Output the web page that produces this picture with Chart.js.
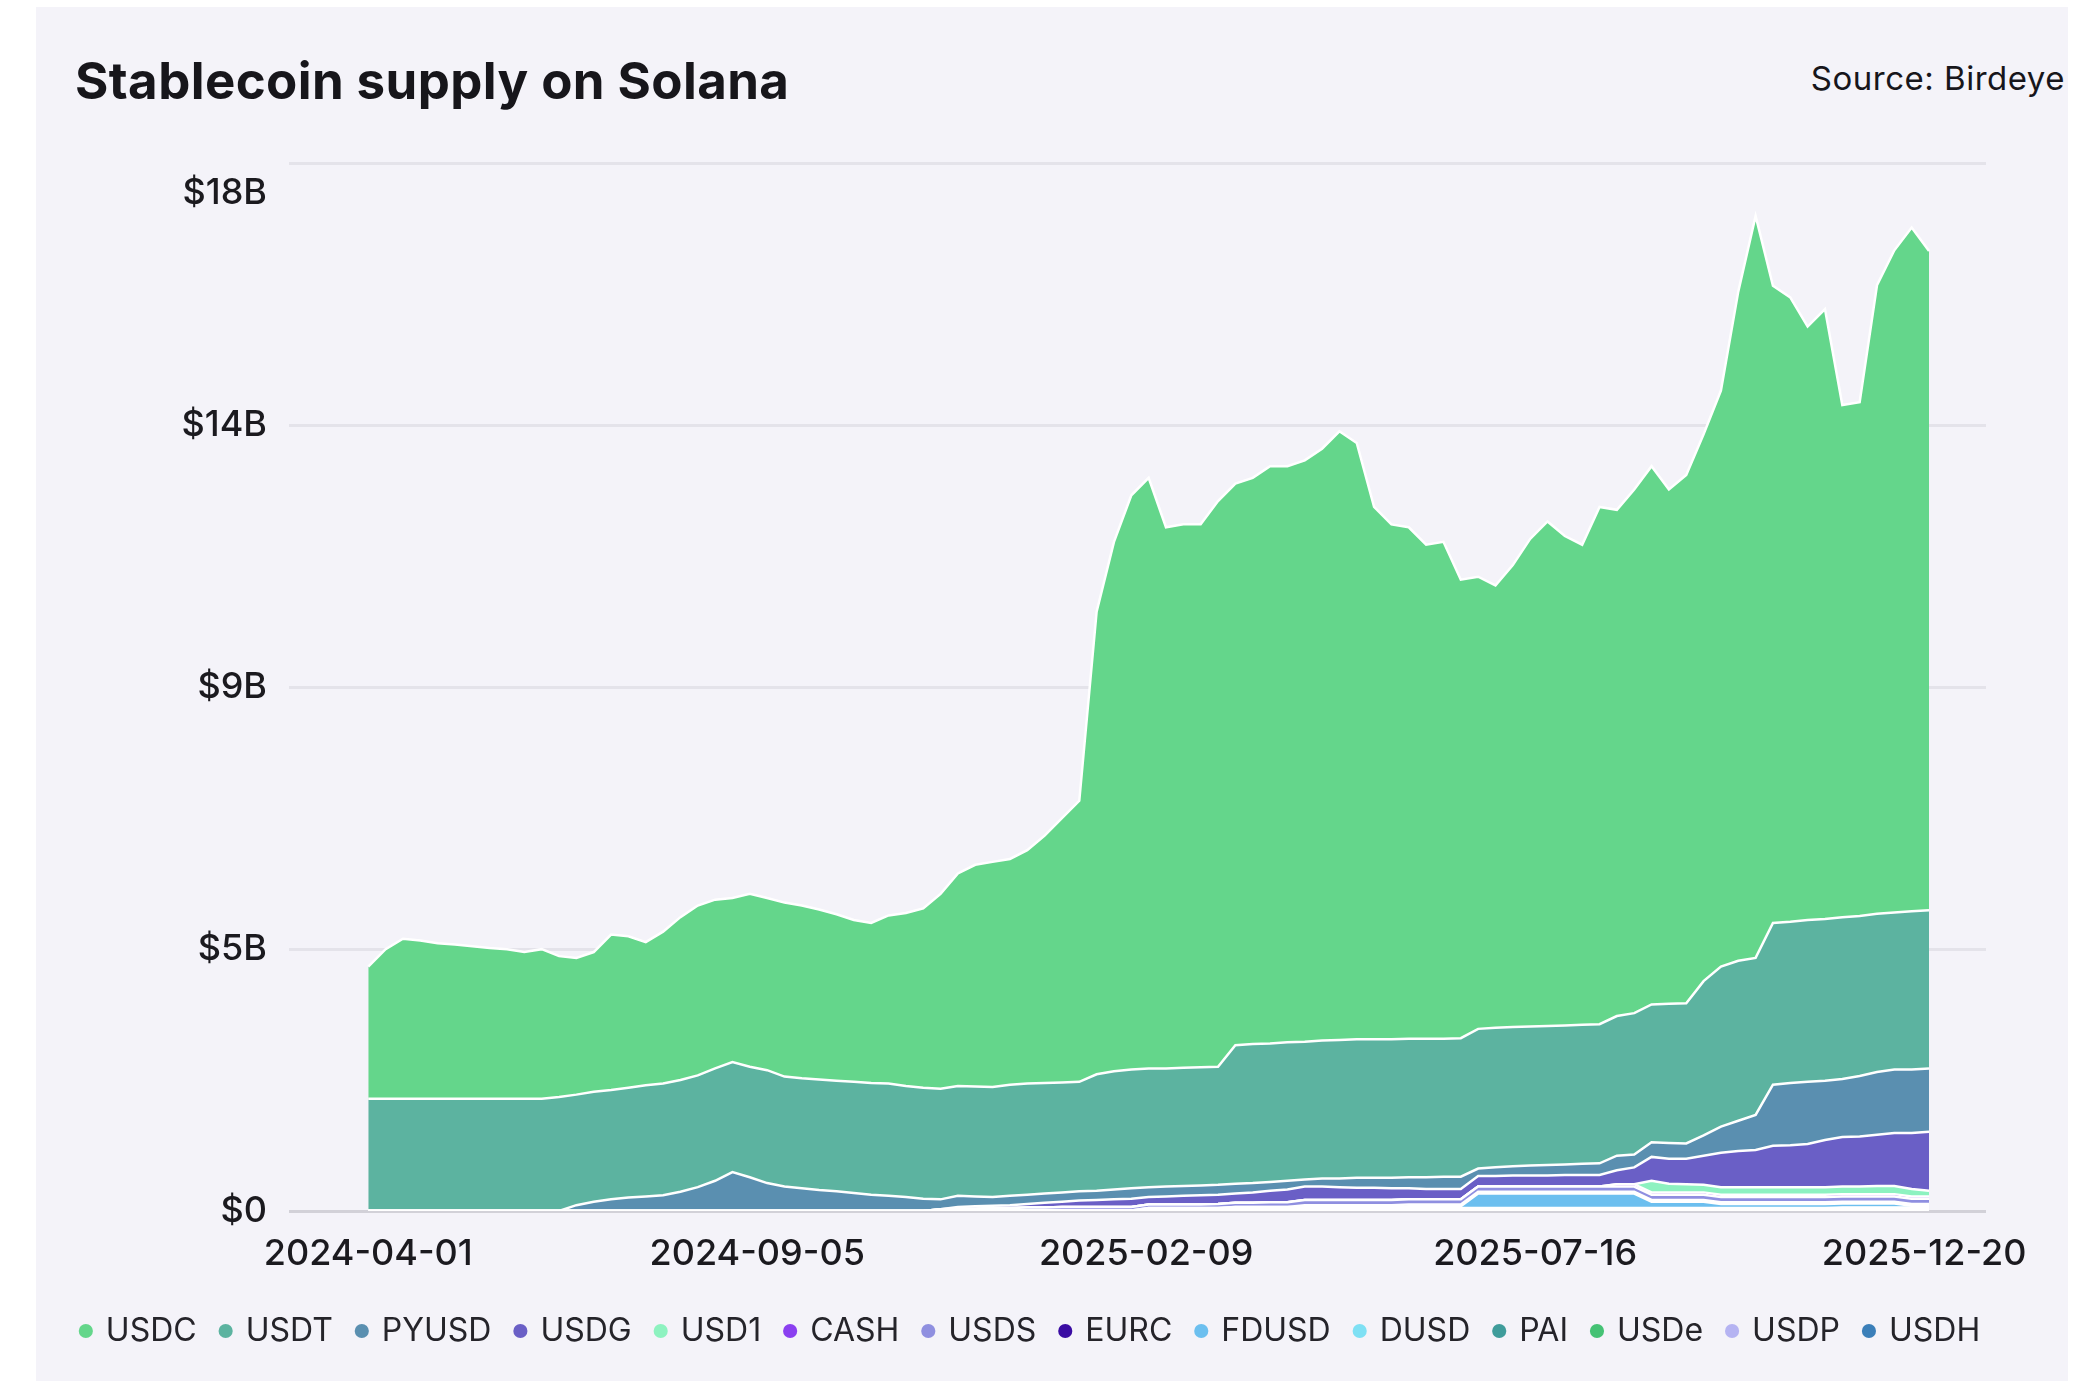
<!DOCTYPE html>
<html>
<head>
<meta charset="utf-8">
<script src="https://cdn.jsdelivr.net/npm/chart.js@4.4.1/dist/chart.umd.min.js"></script>
<style>
  body { margin: 0; width: 2091px; height: 1383px; overflow: hidden; background: #ffffff; font-family: Inter, sans-serif; }
  .card { position: absolute; left: 36px; top: 7px; width: 2032px; height: 1374px; background: #f4f3f9; }
  .title { position: absolute; left: 75px; top: 55px; margin: 0; font: 700 51px/51px Inter, sans-serif; letter-spacing: 0.4px; color: #17161b; }
  .source { position: absolute; right: 26px; top: 62px; font: 400 33px/33px Inter, sans-serif; letter-spacing: 0.5px; color: #17161b; }
  .wrap { position: absolute; left: 30px; top: 120px; width: 2002px; height: 1261px; }
</style>
</head>
<body>
<div class="card"></div>
<h1 class="title">Stablecoin supply on Solana</h1>
<div class="source">Source: Birdeye</div>
<div class="wrap"><canvas id="chart"></canvas></div>
<script>
// one reading per week from 2024-04-01, values in $B
const startDate = '2024-04-01';
const stepDays = 7;
const tickDates = ['2024-04-01', '2024-09-05', '2025-02-09', '2025-07-16', '2025-12-20'];
const yTicks = [0, 4.5, 9, 13.5, 18];

const names = ['USDC', 'USDT', 'PYUSD', 'USDG', 'USD1', 'CASH', 'USDS', 'EURC', 'FDUSD', 'DUSD', 'PAI', 'USDe', 'USDP', 'USDH'];
const colors = ['#64d68b', '#5cb3a0', '#5a8fb0', '#6a5fc6', '#8df2c0', '#8a3ff0', '#8f8fe0', '#3a0ca3', '#6cbfef', '#7ee0f4', '#3f9c9b', '#45c275', '#b5b3f2', '#3b7fb9'];

const usdc = [2.27, 2.57, 2.75, 2.72, 2.67, 2.65, 2.62, 2.59, 2.57, 2.52,
  2.57, 2.42, 2.35, 2.40, 2.67, 2.60, 2.46, 2.61, 2.80, 2.92,
  2.90, 2.82, 2.97, 2.96, 2.99, 2.97, 2.92, 2.86, 2.78, 2.75,
  2.89, 2.97, 3.08, 3.35, 3.65, 3.81, 3.87, 3.88, 4.01, 4.25,
  4.54, 4.83, 7.95, 9.10, 9.87, 10.15, 9.30, 9.34, 9.33, 9.72,
  9.65, 9.73, 9.92, 9.90, 9.99, 10.17, 10.46, 10.25, 9.15, 8.85,
  8.79, 8.49, 8.54, 7.88, 7.77, 7.60, 7.94, 8.38, 8.67, 8.41,
  8.25, 8.89, 8.70, 9.00, 9.25, 8.84, 9.08, 9.40, 9.90, 11.50,
  12.75, 10.95, 10.73, 10.20, 10.48, 8.80, 8.83, 10.80, 11.38, 11.75,
  11.33];
const usdt = [1.93, 1.93, 1.93, 1.93, 1.93, 1.93, 1.93, 1.93, 1.93, 1.93,
  1.93, 1.96, 1.90, 1.89, 1.88, 1.89, 1.91, 1.92, 1.92, 1.92,
  1.93, 1.89, 1.90, 1.94, 1.89, 1.89, 1.90, 1.90, 1.91, 1.92,
  1.93, 1.91, 1.91, 1.90, 1.89, 1.89, 1.89, 1.91, 1.91, 1.90,
  1.89, 1.88, 2.00, 2.03, 2.04, 2.04, 2.03, 2.03, 2.03, 2.03,
  2.38, 2.39, 2.38, 2.38, 2.37, 2.37, 2.38, 2.38, 2.38, 2.38,
  2.38, 2.38, 2.37, 2.38, 2.40, 2.40, 2.39, 2.39, 2.39, 2.39,
  2.39, 2.39, 2.40, 2.43, 2.37, 2.39, 2.41, 2.65, 2.75, 2.75,
  2.70, 2.78, 2.77, 2.78, 2.78, 2.78, 2.75, 2.72, 2.70, 2.72,
  2.72];
const pyusd = [0, 0, 0, 0, 0, 0, 0, 0, 0, 0,
  0, 0, 0.10, 0.16, 0.20, 0.23, 0.25, 0.27, 0.33, 0.41,
  0.52, 0.67, 0.58, 0.48, 0.42, 0.39, 0.36, 0.34, 0.31, 0.28,
  0.26, 0.24, 0.21, 0.17, 0.19, 0.17, 0.15, 0.16, 0.16, 0.16,
  0.16, 0.16, 0.16, 0.17, 0.18, 0.17, 0.17, 0.17, 0.17, 0.17,
  0.17, 0.16, 0.15, 0.15, 0.12, 0.14, 0.15, 0.17, 0.17, 0.18,
  0.19, 0.20, 0.21, 0.21, 0.13, 0.15, 0.16, 0.17, 0.18, 0.18,
  0.19, 0.20, 0.25, 0.22, 0.25, 0.27, 0.26, 0.35, 0.45, 0.52,
  0.60, 1.05, 1.07, 1.07, 1.02, 1.00, 1.04, 1.08, 1.09, 1.09,
  1.09];
const usdg = [0, 0, 0, 0, 0, 0, 0, 0, 0, 0,
  0, 0, 0, 0, 0, 0, 0, 0, 0, 0,
  0, 0, 0, 0, 0, 0, 0, 0, 0, 0,
  0, 0, 0, 0, 0.03, 0.04, 0.04, 0.05, 0.06, 0.08,
  0.09, 0.11, 0.12, 0.13, 0.14, 0.13, 0.14, 0.15, 0.16, 0.16,
  0.16, 0.18, 0.20, 0.22, 0.23, 0.23, 0.22, 0.21, 0.21, 0.20,
  0.19, 0.18, 0.18, 0.18, 0.18, 0.18, 0.19, 0.19, 0.19, 0.20,
  0.20, 0.20, 0.24, 0.29, 0.41, 0.43, 0.44, 0.50, 0.59, 0.62,
  0.64, 0.71, 0.72, 0.74, 0.81, 0.85, 0.86, 0.88, 0.91, 0.96,
  1.01];
const usd1 = [0, 0, 0, 0, 0, 0, 0, 0, 0, 0,
  0, 0, 0, 0, 0, 0, 0, 0, 0, 0,
  0, 0, 0, 0, 0, 0, 0, 0, 0, 0,
  0, 0, 0, 0, 0, 0, 0, 0, 0, 0,
  0, 0, 0, 0, 0, 0, 0, 0, 0, 0,
  0, 0, 0, 0, 0, 0, 0, 0, 0, 0,
  0, 0, 0, 0, 0, 0, 0, 0, 0, 0,
  0, 0, 0, 0, 0.20, 0.15, 0.14, 0.13, 0.13, 0.13,
  0.13, 0.13, 0.13, 0.13, 0.13, 0.13, 0.13, 0.14, 0.14, 0.13,
  0.10];
const cash = [0, 0, 0, 0, 0, 0, 0, 0, 0, 0,
  0, 0, 0, 0, 0, 0, 0, 0, 0, 0,
  0, 0, 0, 0, 0, 0, 0, 0, 0, 0,
  0, 0, 0, 0, 0, 0, 0, 0, 0, 0,
  0, 0, 0, 0, 0, 0, 0, 0, 0, 0,
  0, 0, 0, 0, 0, 0, 0, 0, 0, 0,
  0, 0, 0, 0, 0, 0, 0, 0, 0, 0,
  0, 0, 0.04, 0.04, 0.04, 0.04, 0.04, 0.04, 0.04, 0.04,
  0.04, 0.04, 0.04, 0.04, 0.04, 0.04, 0.04, 0.04, 0.04, 0.04,
  0.04];
const usds = [0, 0, 0, 0, 0, 0, 0, 0, 0, 0,
  0, 0, 0, 0, 0, 0, 0, 0, 0, 0,
  0, 0, 0, 0, 0, 0, 0, 0, 0, 0,
  0, 0, 0, 0.02, 0.03, 0.03, 0.04, 0.04, 0.05, 0.05,
  0.06, 0.06, 0.06, 0.06, 0.06, 0.06, 0.06, 0.06, 0.06, 0.07,
  0.07, 0.07, 0.08, 0.08, 0.09, 0.09, 0.09, 0.09, 0.09, 0.09,
  0.09, 0.09, 0.09, 0.09, 0.09, 0.09, 0.09, 0.09, 0.09, 0.09,
  0.09, 0.09, 0.09, 0.09, 0.09, 0.09, 0.09, 0.09, 0.09, 0.09,
  0.09, 0.09, 0.09, 0.09, 0.09, 0.09, 0.09, 0.09, 0.09, 0.09,
  0.09];
const eurc = [0, 0, 0, 0, 0, 0, 0, 0, 0, 0,
  0, 0, 0, 0, 0, 0, 0, 0, 0, 0,
  0, 0, 0, 0, 0, 0, 0, 0, 0, 0,
  0, 0, 0, 0, 0, 0, 0, 0, 0, 0,
  0, 0, 0, 0, 0, 0, 0, 0, 0, 0,
  0, 0, 0, 0, 0.03, 0.03, 0.03, 0.03, 0.03, 0.03,
  0.03, 0.03, 0.03, 0.03, 0.03, 0.03, 0.03, 0.03, 0.03, 0.03,
  0.03, 0.03, 0.03, 0.03, 0.03, 0.03, 0.03, 0.03, 0.03, 0.03,
  0.03, 0.03, 0.03, 0.03, 0.03, 0.03, 0.03, 0.03, 0.03, 0.03,
  0.03];
const fdusd = [0, 0, 0, 0, 0, 0, 0, 0, 0, 0,
  0, 0, 0, 0, 0, 0, 0, 0, 0, 0,
  0, 0, 0, 0, 0, 0, 0, 0, 0, 0,
  0, 0, 0, 0, 0, 0, 0, 0, 0, 0,
  0, 0, 0, 0, 0, 0.03, 0.03, 0.03, 0.03, 0.03,
  0.03, 0.03, 0.03, 0.03, 0.03, 0.03, 0.03, 0.03, 0.03, 0.03,
  0.03, 0.03, 0.03, 0.03, 0.25, 0.25, 0.25, 0.25, 0.25, 0.25,
  0.25, 0.25, 0.25, 0.25, 0.11, 0.11, 0.11, 0.11, 0.07, 0.07,
  0.07, 0.07, 0.07, 0.07, 0.07, 0.07, 0.07, 0.07, 0.07, 0.03,
  0.03];
const dusd = [0, 0, 0, 0, 0, 0, 0, 0, 0, 0,
  0, 0, 0, 0, 0, 0, 0, 0, 0, 0,
  0, 0, 0, 0, 0, 0, 0, 0, 0, 0,
  0, 0, 0, 0, 0, 0, 0, 0, 0, 0,
  0, 0, 0, 0, 0, 0, 0, 0, 0, 0,
  0, 0, 0, 0, 0, 0, 0, 0, 0, 0,
  0.01, 0.01, 0.01, 0.01, 0.01, 0.01, 0.01, 0.01, 0.01, 0.01,
  0.01, 0.01, 0.01, 0.01, 0.01, 0.01, 0.01, 0.01, 0.01, 0.01,
  0.01, 0.01, 0.01, 0.01, 0.01, 0.01, 0.01, 0.01, 0.01, 0.01,
  0.01];
const pai = [0, 0, 0, 0, 0, 0, 0, 0, 0, 0,
  0, 0, 0, 0, 0, 0, 0, 0, 0, 0,
  0, 0, 0, 0, 0, 0, 0, 0, 0, 0,
  0, 0, 0, 0.01, 0.01, 0.01, 0.01, 0.01, 0.01, 0.01,
  0.01, 0.01, 0.01, 0.01, 0.01, 0.01, 0.01, 0.01, 0.01, 0.01,
  0.01, 0.01, 0.01, 0.01, 0.01, 0.01, 0.01, 0.01, 0.01, 0.01,
  0.01, 0.01, 0.01, 0.01, 0.01, 0.01, 0.01, 0.01, 0.01, 0.01,
  0.01, 0.01, 0.01, 0.01, 0.01, 0.01, 0.01, 0.01, 0.01, 0.01,
  0.01, 0.01, 0.01, 0.01, 0.01, 0.01, 0.01, 0.01, 0.01, 0.01,
  0.01];
const usde = [0, 0, 0, 0, 0, 0, 0, 0, 0, 0,
  0, 0, 0, 0, 0, 0, 0, 0, 0, 0,
  0, 0, 0, 0, 0, 0, 0, 0, 0, 0,
  0, 0, 0, 0, 0, 0, 0, 0, 0, 0,
  0, 0, 0, 0, 0, 0, 0, 0, 0, 0,
  0.02, 0.02, 0.02, 0.02, 0.02, 0.02, 0.02, 0.02, 0.02, 0.02,
  0.02, 0.02, 0.02, 0.02, 0.02, 0.02, 0.02, 0.02, 0.02, 0.02,
  0.02, 0.02, 0.02, 0.02, 0.02, 0.02, 0.02, 0.02, 0.02, 0.02,
  0.02, 0.02, 0.02, 0.02, 0.02, 0.02, 0.02, 0.02, 0.02, 0.02,
  0.02];
const usdp = [0, 0, 0, 0, 0, 0, 0, 0, 0, 0,
  0, 0, 0, 0, 0, 0, 0, 0, 0, 0,
  0, 0, 0, 0, 0, 0, 0, 0, 0, 0,
  0, 0, 0, 0, 0, 0, 0, 0, 0, 0,
  0, 0, 0, 0, 0, 0.01, 0.01, 0.01, 0.01, 0.01,
  0.01, 0.01, 0.01, 0.01, 0.01, 0.01, 0.01, 0.01, 0.01, 0.01,
  0.01, 0.01, 0.01, 0.01, 0.01, 0.01, 0.01, 0.01, 0.01, 0.01,
  0.01, 0.01, 0.01, 0.01, 0.01, 0.01, 0.01, 0.01, 0.01, 0.01,
  0.01, 0.01, 0.01, 0.01, 0.01, 0.01, 0.01, 0.01, 0.01, 0.01,
  0.01];
const usdh = [0, 0, 0, 0, 0, 0, 0, 0, 0, 0,
  0, 0, 0, 0, 0, 0, 0, 0, 0, 0,
  0, 0, 0, 0, 0, 0, 0, 0, 0, 0,
  0, 0, 0, 0, 0, 0, 0, 0, 0, 0,
  0, 0, 0, 0, 0, 0, 0, 0, 0, 0,
  0, 0, 0, 0, 0, 0, 0, 0, 0, 0,
  0, 0, 0, 0, 0, 0, 0, 0, 0, 0,
  0, 0, 0, 0, 0, 0, 0, 0, 0, 0,
  0, 0, 0, 0, 0, 0.01, 0.01, 0.01, 0.01, 0.01,
  0.01];

const series = [usdc, usdt, pyusd, usdg, usd1, cash, usds, eurc, fdusd, dusd, pai, usde, usdp, usdh];

const dayOf = s => (Date.parse(s) - Date.parse(startDate)) / 864e5;
const tickDays = tickDates.map(dayOf);
const textColor = '#1b1a1f';

// stack from the bottom up: last legend entry sits lowest
const datasets = names.map((name, k) => ({
  label: name,
  data: series[k].map((v, i) => ({ x: i * stepDays, y: v })),
  backgroundColor: colors[k],
  borderColor: '#ffffff',
  borderWidth: 2.5,
  pointRadius: 0,
  tension: 0
})).reverse();
datasets.forEach((d, i) => { d.fill = i === 0 ? 'origin' : '-1'; });

// top label sits below its grid line in the original
const topLabel = {
  id: 'topLabel',
  afterDraw(chart) {
    const y = chart.scales.y;
    const ctx = chart.ctx;
    const top = yTicks[yTicks.length - 1];
    ctx.save();
    ctx.font = '500 36px Inter';
    ctx.fillStyle = textColor;
    ctx.textAlign = 'right';
    ctx.textBaseline = 'middle';
    ctx.fillText('$' + top + 'B', y.right - 22, y.getPixelForValue(top) + 30);
    ctx.restore();
  }
};

new Chart(document.getElementById('chart'), {
  type: 'line',
  data: { datasets: datasets },
  plugins: [topLabel],
  options: {
    responsive: true,
    maintainAspectRatio: false,
    animation: false,
    layout: { padding: { top: 43, bottom: 24, left: 0, right: 0 } },
    plugins: {
      tooltip: { enabled: false },
      legend: {
        position: 'bottom',
        reverse: true,
        labels: {
          usePointStyle: true,
          pointStyle: 'circle',
          boxWidth: 8,
          boxHeight: 10,
          padding: 25,
          color: '#25242a',
          font: { family: 'Inter', size: 32, weight: '400' },
          generateLabels: chart => Chart.defaults.plugins.legend.labels.generateLabels(chart)
            .map(l => Object.assign(l, { lineWidth: 0, strokeStyle: 'rgba(0,0,0,0)' }))
        }
      }
    },
    scales: {
      x: {
        type: 'linear',
        min: -32,
        max: 653,
        afterBuildTicks: s => { s.ticks = tickDays.map(v => ({ value: v })); },
        afterFit: s => { s.height = 79; s.paddingLeft = 0; s.paddingRight = 0; },
        ticks: {
          callback: (v, i) => tickDates[i],
          autoSkip: false,
          maxRotation: 0,
          padding: 14,
          color: textColor,
          font: { family: 'Inter', size: 36, weight: '500' }
        },
        grid: { display: false },
        border: { display: false }
      },
      y: {
        stacked: true,
        min: 0,
        max: 18,
        afterBuildTicks: s => { s.ticks = yTicks.map(v => ({ value: v })); },
        afterFit: s => { s.width = 259; },
        ticks: {
          callback: v => v === 0 ? '$0' : '$' + Math.round(v) + 'B',
          padding: 22,
          color: c => c.tick.value === 18 ? 'rgba(0,0,0,0)' : textColor,
          font: { family: 'Inter', size: 36, weight: '500' }
        },
        grid: {
          drawTicks: false,
          lineWidth: 3,
          color: c => c.tick.value === 0 ? '#d2d1d8' : '#e4e3ea'
        },
        border: { display: false }
      },
      yR: {
        position: 'right',
        afterFit: s => { s.width = 46; },
        ticks: { display: false },
        grid: { display: false },
        border: { display: false }
      }
    }
  }
});
</script>
</body>
</html>
